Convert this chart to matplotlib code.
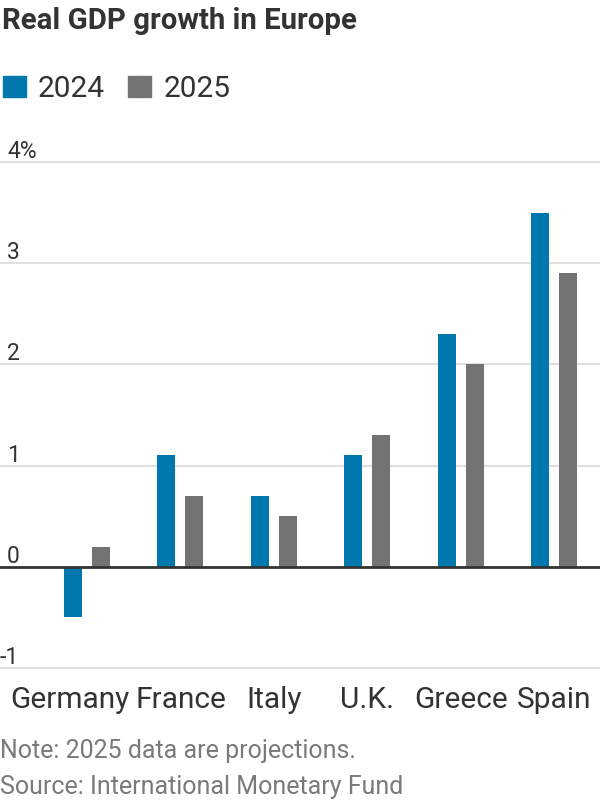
import matplotlib
matplotlib.use("Agg")
import matplotlib.pyplot as plt
import numpy as np
from matplotlib.transforms import offset_copy

countries = ["Germany", "France", "Italy", "U.K.", "Greece", "Spain"]
growth_2024 = [-0.5, 1.1, 0.7, 1.1, 2.3, 3.5]
growth_2025 = [0.2, 0.7, 0.5, 1.3, 2.0, 2.9]
y_ticks = [-1, 0, 1, 2, 3, 4]
y_tick_labels = ["-1", "0", "1", "2", "3", "4%"]

BLUE = "#0078AE"
GRAY = "#737373"
TXT = "#333333"
NOTE = "#7a7a7a"
FONT = "Roboto"

plt.rcParams["font.family"] = [FONT, "DejaVu Sans"]

fig = plt.figure(figsize=(6, 8), dpi=100)
ax = fig.add_axes([0.0, 0.165, 1.0, 0.6325])

x = np.arange(len(countries))
w = 0.193
off = 0.15
ax.bar(x - off, growth_2024, width=w, color=BLUE, zorder=3)
ax.bar(x + off, growth_2025, width=w, color=GRAY, zorder=3)

ax.set_xlim(-0.931, 5.49)
ax.set_ylim(-1, 4)

for t in y_ticks:
    if t == 0:
        ax.axhline(t, color="#333333", lw=2, zorder=4, clip_on=False)
    else:
        ax.axhline(t, color="#e0e0e0", lw=1.5, zorder=1, clip_on=False)

ytr = offset_copy(ax.get_yaxis_transform(), fig=fig, x=0, y=4, units="dots")
for t, lab in zip(y_ticks, y_tick_labels):
    xt = 0.0 if t == -1 else 0.012
    ax.text(xt, t, lab, transform=ytr, ha="left",
            va="baseline", fontsize=16.5, color=TXT)
ax.set_xticks([])
ax.set_yticks([])
for s in ax.spines.values():
    s.set_visible(False)

# category labels (baseline ~707px from top)
for i, c in enumerate(countries):
    dx = -17 if i == 0 else 0
    tr = offset_copy(ax.transData, fig=fig, x=dx, y=0, units="dots")
    tr = matplotlib.transforms.blended_transform_factory(tr, fig.transFigure)
    ax.text(i, 1 - 708 / 800, c, transform=tr, ha="center", va="baseline",
            fontsize=21.5, color=TXT)

fig.text(0.003, 1 - 29 / 800, "Real GDP growth in Europe", ha="left",
         va="baseline", fontsize=21.2, fontweight="bold", color=TXT)

# legend
fig.patches.append(plt.Rectangle((3 / 600, 1 - 97 / 800), 23 / 600, 21 / 800,
                                 transform=fig.transFigure, color=BLUE))
fig.text(38 / 600, 1 - 97 / 800, "2024", ha="left", va="baseline",
         fontsize=21.5, color=TXT)
fig.patches.append(plt.Rectangle((128 / 600, 1 - 97 / 800), 23 / 600, 21 / 800,
                                 transform=fig.transFigure, color=GRAY))
fig.text(164 / 600, 1 - 97 / 800, "2025", ha="left", va="baseline",
         fontsize=21.5, color=TXT)

fig.text(0.0, 1 - 758 / 800, "Note: 2025 data are projections.", ha="left",
         va="baseline", fontsize=18, color=NOTE)
fig.text(0.0, 1 - 794 / 800, "Source: International Monetary Fund", ha="left",
         va="baseline", fontsize=18, color=NOTE)

fig.savefig("out.png", dpi=100)
